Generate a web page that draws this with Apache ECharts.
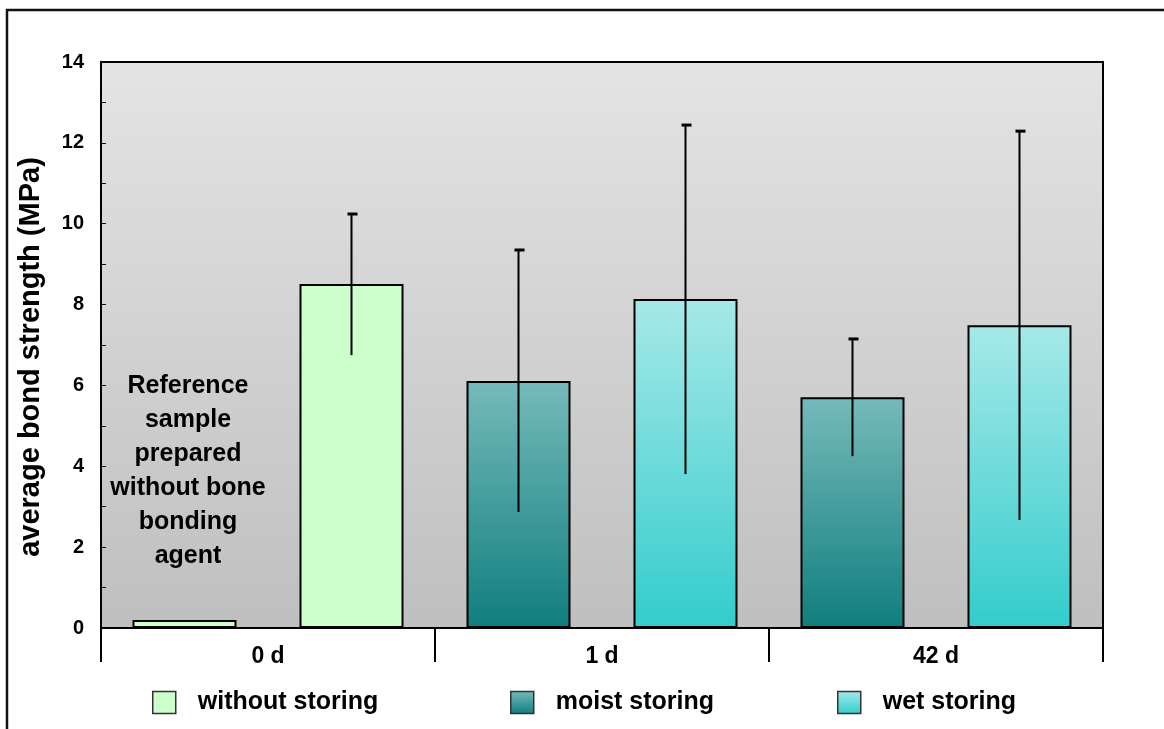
<!DOCTYPE html>
<html><head><meta charset="utf-8">
<script src="https://cdn.jsdelivr.net/npm/echarts@6/dist/echarts.min.js"></script>
<style>html,body{margin:0;padding:0;background:#fff}#c{width:1164px;height:729px}</style>
</head><body><div id="c"></div>
<script>
// ---- data ----
const barSlots = ['ref', '0d', '1d-moist', '1d-wet', '42d-moist', '42d-wet'];
const groups = ['0 d', '1 d', '42 d'];
const seriesNames = ['without storing', 'moist storing', 'wet storing'];
const withoutStoring = [0.2, 8.51, null, null, null, null];
const moistStoring = [null, null, 6.11, null, 5.71, null];
const wetStoring = [null, null, null, 8.14, null, 7.49];
const errLow = [null, 6.75, 2.87, 3.81, 4.25, 2.67];
const errHigh = [null, 10.24, 9.35, 12.44, 7.15, 12.29];
const yMin = 0, yMax = 14, yInterval = 2;
const yName = 'average bond strength (MPa)';
const annotation = 'Reference\nsample\nprepared\nwithout bone\nbonding\nagent';

// ---- chart ----
const FONT = 'Liberation Sans, Arial, sans-serif';
const G = echarts.graphic.LinearGradient;
const grad = (a, b) => new G(0, 0, 0, 1, [{offset: 0, color: a}, {offset: 1, color: b}]);

const colors = ['#ccffcc', grad('#76baba', '#107e7e'), grad('#a6e9e8', '#33cccc')];
const values = [withoutStoring, moistStoring, wetStoring];

const errData = barSlots.map((s, i) => [i, errLow[i], errHigh[i]]).filter(d => d[1] != null);

const chart = echarts.init(document.getElementById('c'));
const legendLefts = [152, 510, 837];

chart.setOption({
  animation: false,
  textStyle: {fontFamily: FONT},
  grid: {
    left: 101, right: 61, top: 62, bottom: 101,
    show: true,
    backgroundColor: grad('#e4e4e4', '#bfbfbf'),
    borderColor: '#000', borderWidth: 2
  },
  legend: seriesNames.map((n, i) => ({
    data: [n], left: legendLefts[i], top: 690, padding: 0,
    itemWidth: 23, itemHeight: 22,
    icon: 'rect',
    itemStyle: {borderColor: '#333', borderWidth: 1.5},
    textStyle: {fontFamily: FONT, fontWeight: 'bold', fontSize: 25, color: '#000', padding: [0, 0, 0, 17]},
    selectedMode: false
  })),
  xAxis: [{
    type: 'category', data: barSlots, position: 'bottom',
    axisLine: {show: true, lineStyle: {color: '#000', width: 2}},
    axisTick: {show: false}, axisLabel: {show: false}, splitLine: {show: false}
  }, {
    type: 'category', data: groups, position: 'bottom',
    axisLine: {show: false},
    axisTick: {show: true, length: 34, inside: false, interval: 0, lineStyle: {color: '#000', width: 2}},
    axisLabel: {show: true, margin: 17, fontFamily: FONT, fontWeight: 'bold', fontSize: 23, color: '#000', interval: 0},
    splitLine: {show: false}
  }],
  yAxis: {
    type: 'value', min: yMin, max: yMax, interval: yInterval,
    name: yName, nameLocation: 'middle', nameGap: 56,
    nameTextStyle: {fontFamily: FONT, fontWeight: 'bold', fontSize: 29, color: '#000', padding: [0, 24, 0, 0]},
    axisLine: {show: true, lineStyle: {color: '#000', width: 2}},
    axisTick: {show: true, inside: true, length: 5, lineStyle: {color: '#000', width: 1}},
    minorTick: {show: true, splitNumber: 2, length: 5, lineStyle: {color: '#000', width: 1}},
    axisLabel: {margin: 17, fontFamily: FONT, fontWeight: 'bold', fontSize: 20, color: '#000'},
    splitLine: {show: false}
  },
  graphic: [{
    type: 'rect', silent: true, z: -10,
    shape: {x: 7, y: 10, width: 1200, height: 800},
    style: {fill: 'none', stroke: '#111', lineWidth: 2.5}
  }, {
    type: 'text', silent: true, z: 100,
    x: 188, y: 369,
    style: {text: annotation, textAlign: 'center', fill: '#000',
      font: 'bold 25px ' + FONT, lineHeight: 34}
  }],
  series: values.map((v, i) => ({
    name: seriesNames[i], type: 'bar', data: v,
    barWidth: 104, barGap: '-100%',
    itemStyle: {color: colors[i], borderColor: '#000', borderWidth: 2}
  })).concat([{
    type: 'custom', name: 'err', data: errData, z: 10,
    encode: {x: 0, y: [1, 2]},
    renderItem: function (params, api) {
      const lo = api.coord([api.value(0), api.value(1)]);
      const hi = api.coord([api.value(0), api.value(2)]);
      const x = lo[0];
      return {
        type: 'group', children: [
          {type: 'line', shape: {x1: x, y1: lo[1], x2: x, y2: hi[1]}, style: {stroke: '#000', lineWidth: 2}},
          {type: 'line', shape: {x1: x - 4, y1: hi[1], x2: x + 6, y2: hi[1]}, style: {stroke: '#000', lineWidth: 3}}
        ]
      };
    }
  }])
});
</script></body></html>
